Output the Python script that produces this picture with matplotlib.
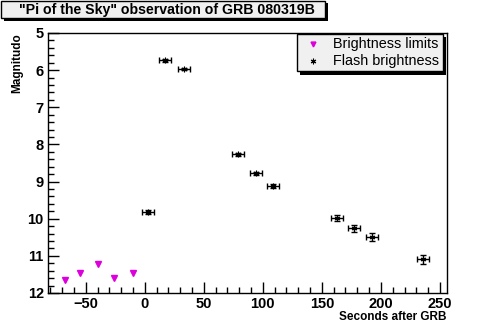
import matplotlib
matplotlib.use('Agg')
import matplotlib.pyplot as plt
from matplotlib.patches import Rectangle
from matplotlib.ticker import MultipleLocator
from matplotlib.lines import Line2D

plt.rcParams['font.family'] = ['Liberation Sans', 'DejaVu Sans']

# flash measurements: seconds after GRB, magnitude, errors
flash_t = [17, 33, 2.5, 79, 94, 108.5, 163, 177, 192.5, 235.5]
flash_mag = [5.74, 5.97, 9.82, 8.26, 8.77, 9.11, 9.98, 10.26, 10.49, 11.09]
flash_terr = [5, 5, 5, 5, 5, 5, 5, 5, 5, 5]
flash_merr = [0.03, 0.03, 0.05, 0.04, 0.04, 0.05, 0.09, 0.1, 0.1, 0.12]

# upper limits before the burst
limit_t = [-68, -54.5, -40, -25.7, -10.4]
limit_mag = [11.65, 11.45, 11.23, 11.6, 11.45]

fig = plt.figure(figsize=(5.01, 3.26), dpi=100)
ax = fig.add_axes([48 / 501, 33 / 326, 399 / 501, 260 / 326])

ax.errorbar(flash_t, flash_mag, xerr=flash_terr, yerr=flash_merr,
            fmt='none', ecolor='black', elinewidth=1.0, capsize=2.5, capthick=1.0)
ax.plot(flash_t, flash_mag, linestyle='none', marker=(6, 2, 0),
        markersize=4, color='black', markeredgewidth=0.8)
ax.plot(limit_t, limit_mag, linestyle='none', marker='v',
        markersize=4.5, color='#dd00dd', markeredgecolor='#dd00dd')

ax.set_xlim(-82, 256)
ax.set_ylim(12, 5)

ax.xaxis.set_major_locator(MultipleLocator(50))
ax.xaxis.set_minor_locator(MultipleLocator(10))
ax.yaxis.set_major_locator(MultipleLocator(1))
ax.yaxis.set_minor_locator(MultipleLocator(0.2))
ax.tick_params(which='both', direction='in', top=False, right=False, width=1.0)
ax.tick_params(which='major', length=8, labelsize=10.5, pad=3)
ax.tick_params(which='minor', length=4)
for lbl in ax.get_xticklabels() + ax.get_yticklabels():
    lbl.set_fontweight('bold')
for sp in ax.spines.values():
    sp.set_linewidth(1.0)

ax.set_xlabel('Seconds after GRB', fontsize=8.5, fontweight='bold', loc='right', labelpad=0)
ax.set_ylabel('Magnitudo', fontsize=8.5, fontweight='bold', loc='top', labelpad=3)

# title box with shadow
fig.patches.append(Rectangle((4 / 501, 1 - 21 / 326), 324 / 501, 18 / 326,
                             transform=fig.transFigure, facecolor='black', edgecolor='none'))
fig.patches.append(Rectangle((1 / 501, 1 - 18 / 326), 324 / 501, 17 / 326,
                             transform=fig.transFigure, facecolor='#f0f0f0',
                             edgecolor='black', linewidth=1.0))
fig.text(167 / 501, 1 - 10 / 326, '"Pi of the Sky" observation of GRB 080319B',
         ha='center', va='center', fontsize=10.2, fontweight='bold')

# legend box with shadow
fig.patches.append(Rectangle((300 / 501, 1 - 75 / 326), 146 / 501, 38 / 326,
                             transform=fig.transFigure, facecolor='black', edgecolor='none'))
fig.patches.append(Rectangle((297 / 501, 1 - 71 / 326), 146 / 501, 37 / 326,
                             transform=fig.transFigure, facecolor='#f0f0f0',
                             edgecolor='black', linewidth=1.0))
fig.add_artist(Line2D([313 / 501], [1 - 44 / 326], transform=fig.transFigure,
                      marker='v', markersize=3.5, color='#dd00dd', linestyle='none'))
fig.add_artist(Line2D([313 / 501], [1 - 61 / 326], transform=fig.transFigure,
                      marker=(6, 2, 0), markersize=4, color='black',
                      markeredgewidth=0.8, linestyle='none'))
fig.text(333 / 501, 1 - 44 / 326, 'Brightness limits', ha='left', va='center', fontsize=10.4)
fig.text(333 / 501, 1 - 61 / 326, 'Flash brightness', ha='left', va='center', fontsize=10.4)

fig.savefig('out.png', dpi=100, facecolor='white')
